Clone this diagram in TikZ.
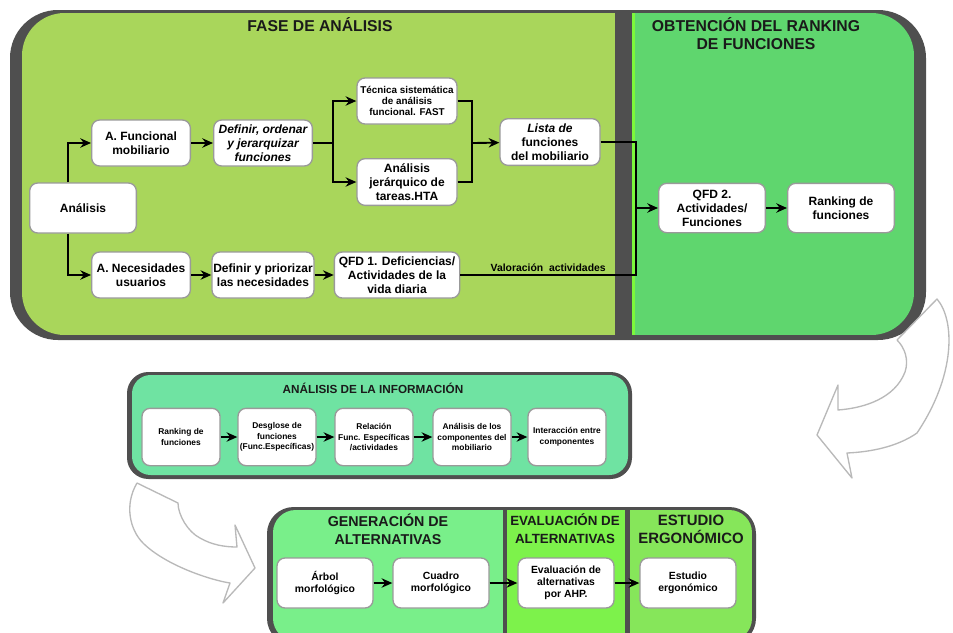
\documentclass[tikz,border=0pt]{standalone}
\usepackage{fontspec}
\setmainfont{Liberation Sans}
\usepackage{xcolor}
\usepackage{tikz}
\usetikzlibrary{positioning,calc,arrows.meta}

\definecolor{fasegreen}{HTML}{A9D65B}
\definecolor{rankgreen}{HTML}{5FD66E}
\definecolor{rimgreen}{HTML}{7CF83C}
\definecolor{infogreen}{HTML}{6FE3A2}
\definecolor{genegreen}{HTML}{79EF8A}
\definecolor{evalgreen}{HTML}{7DF24B}
\definecolor{ergogreen}{HTML}{86E65A}
\definecolor{bordergray}{HTML}{4F4F4F}
\definecolor{boxgray}{HTML}{9A9A9A}
\definecolor{titlegray}{HTML}{1A1A1A}

\begin{document}
\begin{tikzpicture}[x=0.75pt, y=-0.75pt,
    caja/.style={draw=boxgray, fill=white, line width=1pt, rounded corners=6pt, align=center,
        font=\fontsize{9}{10.5}\selectfont\bfseries, inner sep=1pt, minimum width=74pt, minimum height=34.5pt},
    cajita/.style={caja, font=\fontsize{6.3}{8}\selectfont\bfseries, minimum width=58.5pt, minimum height=43pt},
    cajab/.style={caja, font=\fontsize{7.8}{9}\selectfont\bfseries, minimum width=72pt, minimum height=37.5pt},
    titulo/.style={align=center, font=\fontsize{11.8}{13.5}\selectfont\bfseries, text=titlegray},
    flecha/.style={-{Stealth[length=8pt,width=7pt]}, line width=1.4pt},
    linea/.style={line width=1.4pt},
    hueca/.style={fill=white, draw=gray!55, line width=1pt, line join=round}]
    \useasboundingbox (0,0) rectangle (953,632);

    % Paneles superiores
    \fill[bordergray, rounded corners=36pt] (10,10) rectangle (926,340);
    \begin{scope}
        \clip[rounded corners=32pt] (22,13) rectangle (914,335);
        \fill[fasegreen] (22,13) rectangle (615,335);
        \fill[rankgreen] (632,13) rectangle (914,335);
        \fill[rimgreen] (632,13) rectangle (635,335);
    \end{scope}
    \node[titulo] (fase) at (320,25) {FASE DE ANÁLISIS};
    \node[titulo] (obten) at (756,34) {OBTENCIÓN DEL RANKING\\DE FUNCIONES};

    % Fase de analisis
    \node[caja, minimum width=80pt, minimum height=37.5pt] (ana) at (83,208) {Análisis};
    \node[caja] (afun) at (141,143) {A. Funcional\\mobiliario};
    \node[caja, font=\fontsize{9}{10.5}\selectfont\bfseries\itshape] (defi) at (263,143) {Definir, ordenar\\y jerarquizar\\funciones};
    \node[caja, font=\fontsize{7.4}{8.4}\selectfont\bfseries, minimum width=75pt] (fast) at (407,101) {Técnica sistemática\\de análisis\\funcional. FAST};
    \node[caja, minimum width=75pt, minimum height=35pt] (hta) at (407,182) {Análisis\\jerárquico de\\tareas.HTA};
    \node[caja, minimum width=75pt, minimum height=35pt] (lista) at (550,142) {\textit{Lista de}\\funciones\\del mobiliario};
    \node[caja] (nec) at (141,275) {A. Necesidades\\usuarios};
    \node[caja] (prio) at (263,275) {Definir y priorizar\\las necesidades};
    \node[caja, minimum width=94pt] (qfdu) at (397,275) {QFD 1. Deficiencias/\\Actividades de la\\vida diaria};

    % Ranking
    \node[caja, minimum width=80pt, minimum height=37pt] (qfdd) at (712,208) {QFD 2.\\Actividades/\\Funciones};
    \node[caja, minimum width=80pt, minimum height=37pt] (rank) at (841,208) {Ranking de\\funciones};

    \coordinate (rama) at (333,143);
    \coordinate (une) at (472,143);
    \coordinate (col) at (636,208);

    \draw[flecha] ([xshift=-11.25pt]ana.north) |- (afun);
    \draw[flecha] ([xshift=-11.25pt]ana.south) |- (nec);
    \draw[flecha] (afun) -- (defi);
    \draw[linea] (defi) -- (rama);
    \draw[flecha] (rama) |- (fast);
    \draw[flecha] (rama) |- (hta);
    \draw[linea] (fast) -| (une);
    \draw[linea] (hta) -| (une);
    \draw[flecha] (une) -- (lista);
    \draw[flecha] (nec) -- (prio);
    \draw[flecha] (prio) -- (qfdu);
    \draw[linea] (lista) -| (col);
    \draw[linea] (qfdu) -| (col) node[pos=0.25, above, inner sep=1.5pt, font=\fontsize{7.8}{9}\selectfont\bfseries] {Valoración\ \ actividades};
    \draw[flecha] (col) -- (qfdd);
    \draw[flecha] (qfdd) -- (rank);

    % Analisis de la informacion
    \fill[bordergray, rounded corners=16pt] (127,372) rectangle (632,479);
    \fill[infogreen, rounded corners=14pt] (132,375) rectangle (628,475);
    \node[titulo, font=\fontsize{8.8}{10}\selectfont\bfseries] (info) at (373,388) {ANÁLISIS DE LA INFORMACIÓN};
    \node[cajita] (rk) at (181,437) {Ranking de\\funciones};
    \node[cajita] (desg) at (277,437) {Desglose de\\funciones\\(Func.Específicas)};
    \node[cajita] (rel) at (374,437) {Relación\\Func. Específicas\\/actividades};
    \node[cajita] (comp) at (472,437) {Análisis de los\\componentes del\\mobiliario};
    \node[cajita] (inter) at (567,437) {Interacción entre\\componentes};
    \draw[flecha] (rk) -- (desg);
    \draw[flecha] (desg) -- (rel);
    \draw[flecha] (rel) -- (comp);
    \draw[flecha] (comp) -- (inter);

    % Alternativas y ergonomia
    \fill[bordergray, rounded corners=20pt] (267,507) rectangle (756,645);
    \begin{scope}
        \clip[rounded corners=17pt] (273,510) rectangle (752,641);
        \fill[genegreen] (273,510) rectangle (503,641);
        \fill[evalgreen] (507,510) rectangle (625,641);
        \fill[ergogreen] (630,510) rectangle (752,641);
    \end{scope}
    \node[titulo, font=\fontsize{10.7}{13.5}\selectfont\bfseries] (gene) at (388,529) {GENERACIÓN DE\\ALTERNATIVAS};
    \node[titulo, font=\fontsize{10}{13.5}\selectfont\bfseries] (eval) at (565,529) {EVALUACIÓN DE\\ALTERNATIVAS};
    \node[titulo, font=\fontsize{11.2}{13.5}\selectfont\bfseries] (ergo) at (691,529) {ESTUDIO\\ERGONÓMICO};
    \node[cajab] (arbol) at (325,583) {Árbol\\morfológico};
    \node[cajab] (cuadro) at (441,583) {Cuadro\\morfológico};
    \node[cajab] (ahp) at (566,583) {Evaluación de\\alternativas\\por AHP.};
    \node[cajab] (estu) at (688,583) {Estudio\\ergonómico};
    \draw[flecha] (arbol) -- (cuadro);
    \draw[flecha] (cuadro) -- (ahp);
    \draw[flecha] (ahp) -- (estu);

    % Flechas huecas
    \filldraw[hueca] (897,340) -- (937,299) .. controls (955,320) and (956,375) .. (917,433)
        .. controls (897,447) and (870,452) .. (847,453) -- (852,478) -- (817,435) -- (838,385) -- (838,410)
        .. controls (865,408) and (895,398) .. (905,372) .. controls (909,360) and (905,348) .. (897,340) -- cycle;
    \filldraw[hueca] (137,483) -- (178,503) .. controls (178,515) and (188,532) .. (200,538)
        .. controls (212,545) and (225,547) .. (237,547) -- (235,525) -- (255,568) -- (223,603) -- (230,583)
        .. controls (210,580) and (165,565) .. (143,543) .. controls (130,530) and (124,505) .. (137,483) -- cycle;
\end{tikzpicture}
\end{document}
